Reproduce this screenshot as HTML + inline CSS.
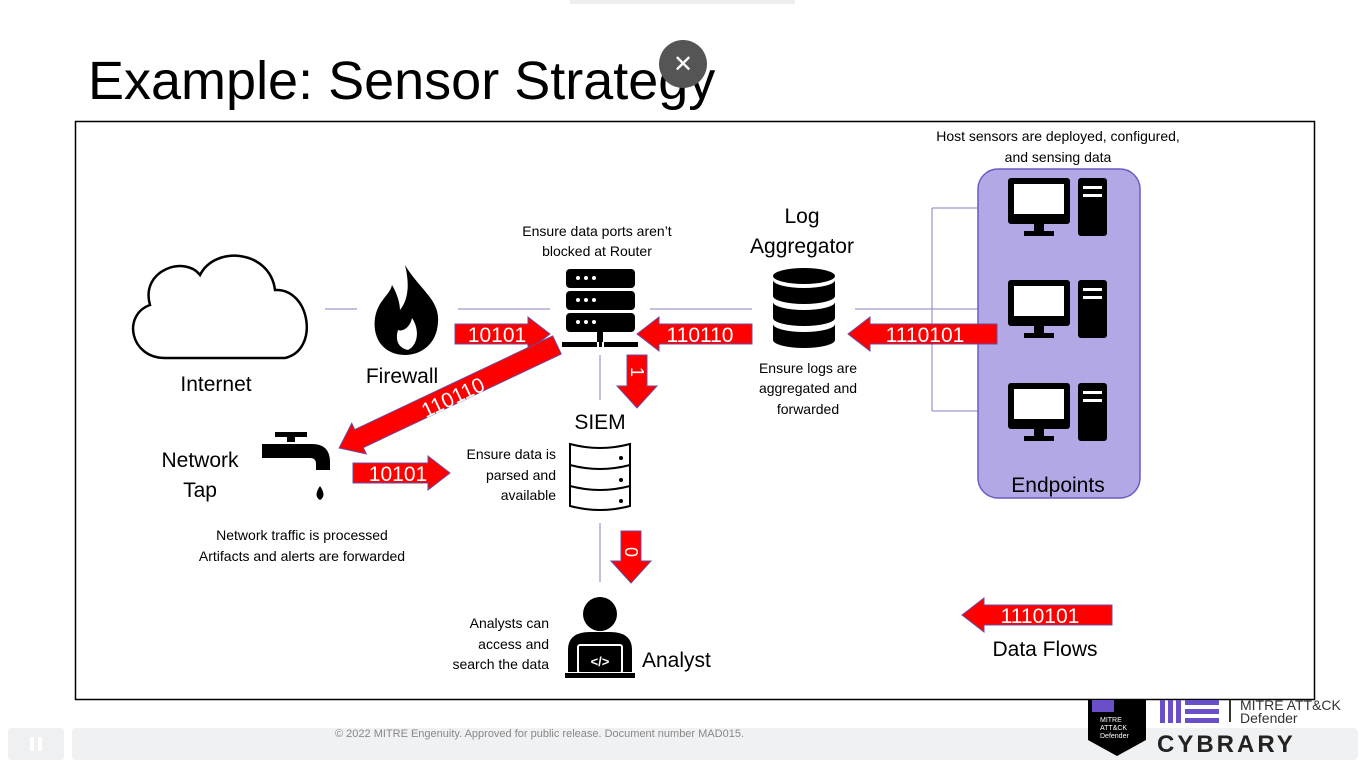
<!DOCTYPE html>
<html><head><meta charset="utf-8"><style>
html,body{margin:0;padding:0;background:#fff;}
body{width:1366px;height:768px;overflow:hidden;position:relative;font-family:"Liberation Sans",sans-serif;}
svg{position:absolute;left:0;top:0;}
</style></head><body>
<svg width="1366" height="768" viewBox="0 0 1366 768" font-family="Liberation Sans, DejaVu Sans, sans-serif">
<defs>
<g id="mon">
 <rect x="0" y="0" width="62" height="46" rx="3" fill="#000"/>
 <rect x="6" y="6" width="50" height="30" fill="#fff"/>
 <rect x="26" y="46" width="10" height="8" fill="#000"/>
 <rect x="16" y="53" width="30" height="5" fill="#000"/>
 <rect x="70" y="0" width="29" height="58" rx="3" fill="#000"/>
 <rect x="75" y="8" width="19" height="3" fill="#fff"/>
 <rect x="75" y="16" width="19" height="3" fill="#fff"/>
</g>
</defs>
<!-- top hint bar -->
<rect x="570" y="0" width="225" height="4" fill="#eee"/>
<text x="88" y="99" font-size="54" fill="#000">Example: Sensor Strategy</text>
<circle cx="683" cy="64" r="24" fill="#555"/>
<text x="683" y="72" font-size="24" fill="#fff" text-anchor="middle">✕</text>
<rect x="75.5" y="121.5" width="1239" height="578" fill="none" stroke="#000" stroke-width="1.5"/>

<!-- connector lines -->
<g stroke="#8a7fc0" stroke-width="1" fill="none">
 <line x1="325" y1="309" x2="357" y2="309"/>
 <line x1="458" y1="309" x2="550" y2="309"/>
 <line x1="650" y1="309" x2="752" y2="309"/>
 <line x1="855" y1="309" x2="978" y2="309"/>
 <line x1="932" y1="208" x2="932" y2="411"/>
 <line x1="932" y1="208" x2="1008" y2="208"/>
 <line x1="932" y1="411" x2="1008" y2="411"/>
 <line x1="600" y1="355" x2="600" y2="400"/>
 <line x1="600" y1="523" x2="600" y2="582"/>
</g>

<!-- cloud -->
<path d="M165,358 C130,358 122,315 150,305 C140,270 185,255 200,275 C215,245 270,250 275,290 C310,288 320,350 285,358 Z" fill="#fff" stroke="#000" stroke-width="2.5"/>
<text x="216" y="391" font-size="21" text-anchor="middle">Internet</text>

<!-- fire -->
<path d="M405,265 C420,290 440,300 438,322 C437,345 420,355 405,355 C385,355 372,340 375,318 C378,300 390,295 392,285 C398,295 400,305 400,310 C408,300 410,285 405,265 Z M408,350 C418,345 420,330 412,318 C410,328 402,332 398,330 C395,340 398,348 408,350 Z" fill="#000" fill-rule="evenodd"/>
<text x="402" y="383" font-size="21" text-anchor="middle">Firewall</text>

<!-- router/server -->
<g fill="#000">
 <rect x="566" y="269" width="69" height="19" rx="4"/>
 <rect x="566" y="291" width="69" height="19" rx="4"/>
 <rect x="566" y="313" width="69" height="19" rx="4"/>
 <rect x="597" y="332" width="6" height="10"/>
 <rect x="562" y="342" width="35" height="5"/><rect x="599" y="342" width="3" height="5"/><rect x="604" y="342" width="34" height="5"/>
</g>
<g fill="#fff">
 <circle cx="578" cy="278" r="2"/><circle cx="586" cy="278" r="2"/><circle cx="594" cy="278" r="2"/>
 <circle cx="578" cy="300" r="2"/><circle cx="586" cy="300" r="2"/><circle cx="594" cy="300" r="2"/>
 <circle cx="578" cy="322" r="2"/><circle cx="586" cy="322" r="2"/><circle cx="594" cy="322" r="2"/>
</g>
<text x="597" y="236" font-size="14" text-anchor="middle">Ensure data ports aren’t</text>
<text x="597" y="256" font-size="14" text-anchor="middle">blocked at Router</text>

<!-- log aggregator db -->
<g fill="#000">
 <ellipse cx="804" cy="276" rx="31" ry="8"/>
 <path d="M773,280 v16 a31,8 0 0 0 62,0 v-16 a31,8 0 0 1 -62,0z"/>
 <path d="M773,302 v16 a31,8 0 0 0 62,0 v-16 a31,8 0 0 1 -62,0z"/>
 <path d="M773,324 v16 a31,8 0 0 0 62,0 v-16 a31,8 0 0 1 -62,0z"/>
</g>
<text x="802" y="223" font-size="21" text-anchor="middle">Log</text>
<text x="802" y="253" font-size="21" text-anchor="middle">Aggregator</text>
<text x="808" y="373" font-size="14" text-anchor="middle">Ensure logs are</text>
<text x="808" y="393" font-size="14" text-anchor="middle">aggregated and</text>
<text x="808" y="414" font-size="14" text-anchor="middle">forwarded</text>

<!-- endpoints -->
<rect x="978" y="169" width="162" height="329" rx="20" fill="#b3a8e6" stroke="#6b5bc4" stroke-width="1.5"/>
<use href="#mon" x="1008" y="178"/>
<use href="#mon" x="1008" y="280"/>
<use href="#mon" x="1008" y="383"/>
<text x="1058" y="492" font-size="21" text-anchor="middle">Endpoints</text>
<text x="1058" y="141" font-size="14" text-anchor="middle">Host sensors are deployed, configured,</text>
<text x="1058" y="162" font-size="14" text-anchor="middle">and sensing data</text>

<!-- SIEM -->
<text x="600" y="429" font-size="21" text-anchor="middle">SIEM</text>
<g fill="#fff" stroke="#000" stroke-width="2">
 <path d="M570,444 q30,8 60,0 v62 q-30,8 -60,0 z"/>
 <path d="M570,465 q30,8 60,0 M570,486 q30,8 60,0" fill="none"/>
</g>
<circle cx="621" cy="458" r="2" fill="#000"/><circle cx="621" cy="480" r="2" fill="#000"/><circle cx="621" cy="501" r="2" fill="#000"/>
<text x="556" y="459" font-size="14" text-anchor="end">Ensure data is</text>
<text x="556" y="480" font-size="14" text-anchor="end">parsed and</text>
<text x="556" y="500" font-size="14" text-anchor="end">available</text>

<!-- network tap -->
<g fill="#000">
 <rect x="287" y="432" width="8" height="10"/>
 <rect x="275" y="432" width="32" height="5"/>
 <path d="M262,444 h50 q18,0 18,18 v8 h-14 v-6 q0,-6 -6,-6 h-48 z"/>
 <path d="M320,486 q-7,10 0,14 q7,-4 0,-14z"/>
</g>
<text x="200" y="467" font-size="21" text-anchor="middle">Network</text>
<text x="200" y="497" font-size="21" text-anchor="middle">Tap</text>
<text x="302" y="540" font-size="14" text-anchor="middle">Network traffic is processed</text>
<text x="302" y="561" font-size="14" text-anchor="middle">Artifacts and alerts are forwarded</text>

<!-- analyst -->
<g fill="#000">
 <circle cx="600" cy="614" r="17"/>
 <path d="M568,672 v-22 q0,-18 22,-18 h20 q22,0 22,18 v22 z"/>
</g>
<rect x="578" y="645" width="44" height="28" rx="2" fill="#000" stroke="#fff" stroke-width="2"/>
<text x="600" y="666" font-size="13" fill="#fff" text-anchor="middle" font-weight="bold">&lt;/&gt;</text>
<rect x="565" y="673" width="70" height="5" fill="#000"/>
<text x="642" y="667" font-size="21">Analyst</text>
<text x="549" y="628" font-size="14" text-anchor="end">Analysts can</text>
<text x="549" y="649" font-size="14" text-anchor="end">access and</text>
<text x="549" y="669" font-size="14" text-anchor="end">search the data</text>

<!-- arrows -->
<g fill="#fe0000" stroke="#6b4ba0" stroke-width="1">
 <polygon transform="translate(455,334)" points="0,-10 73,-10 73,-17 95,0 73,17 73,10 0,10"/>
 <polygon transform="translate(752,334) rotate(180)" points="0,-10 93,-10 93,-17 115,0 93,17 93,10 0,10"/>
 <polygon transform="translate(997,334) rotate(180)" points="0,-10 127,-10 127,-17 149,0 127,17 127,10 0,10"/>
 <polygon transform="translate(353,473)" points="0,-10 75,-10 75,-17 97,0 75,17 75,10 0,10"/>
 <polygon transform="translate(637,355) rotate(90)" points="0,-10 31,-10 31,-20 53,0 31,20 31,10 0,10"/>
 <polygon transform="translate(631,531) rotate(90)" points="0,-10 30,-10 30,-20 52,0 30,20 30,10 0,10"/>
 <polygon transform="translate(1112,615) rotate(180)" points="0,-10 128,-10 128,-17 150,0 128,17 128,10 0,10"/>
 <polygon transform="translate(557,345) rotate(154.7)" points="0,-10 219,-10 219,-17 241,0 219,17 219,10 0,10"/>
</g>
<g fill="#fff" font-size="21">
 <text x="497" y="342" text-anchor="middle">10101</text>
 <text x="700" y="342" text-anchor="middle">110110</text>
 <text x="925" y="342" text-anchor="middle">1110101</text>
 <text x="398" y="481" text-anchor="middle">10101</text>
 <text x="1040" y="623" text-anchor="middle">1110101</text>
 <text transform="translate(456,404) rotate(-25.3)" text-anchor="middle">110110</text>
 <text transform="translate(631,372) rotate(90)" text-anchor="middle" font-size="18">1</text>
 <text transform="translate(625,552) rotate(90)" text-anchor="middle" font-size="18">0</text>
</g>
<text x="1045" y="656" font-size="21" text-anchor="middle">Data Flows</text>

<!-- bottom video bar -->
<rect x="8" y="728" width="56" height="32" rx="4" fill="#eef0f2"/>
<rect x="30" y="737" width="4" height="14" fill="#fff"/><rect x="38" y="737" width="4" height="14" fill="#fff"/>
<rect x="72" y="728" width="1286" height="32" rx="4" fill="#eef0f2" opacity="0.9"/>
<text x="335" y="737" font-size="11" fill="#888">© 2022 MITRE Engenuity. Approved for public release. Document number MAD015.</text>

<!-- logos -->
<path d="M1088,700 h58 v40 l-29,16 l-29,-16 z" fill="#000"/>
<rect x="1092" y="700" width="22" height="12" fill="#6a4fc8"/>
<text x="1100" y="722" font-size="7" fill="#fff">MITRE</text>
<text x="1100" y="730" font-size="7" fill="#fff">ATT&amp;CK</text>
<text x="1100" y="738" font-size="7" fill="#fff">Defender</text>
<g fill="#6a4fc8">
 <rect x="1160" y="700" width="5" height="23"/><rect x="1168" y="700" width="5" height="23"/><rect x="1176" y="700" width="5" height="23"/>
 <rect x="1185" y="700" width="34" height="5"/><rect x="1185" y="709" width="34" height="5"/><rect x="1185" y="718" width="34" height="5"/>
</g>
<rect x="1229" y="700" width="2" height="22" fill="#333"/>
<text x="1240" y="710" font-size="14" fill="#333">MITRE ATT&amp;CK</text>
<text x="1240" y="723" font-size="14" fill="#333">Defender</text>
<text x="1157" y="752" font-size="24" font-weight="bold" fill="#222" letter-spacing="3">CYBRARY</text>
</svg>
</body></html>
